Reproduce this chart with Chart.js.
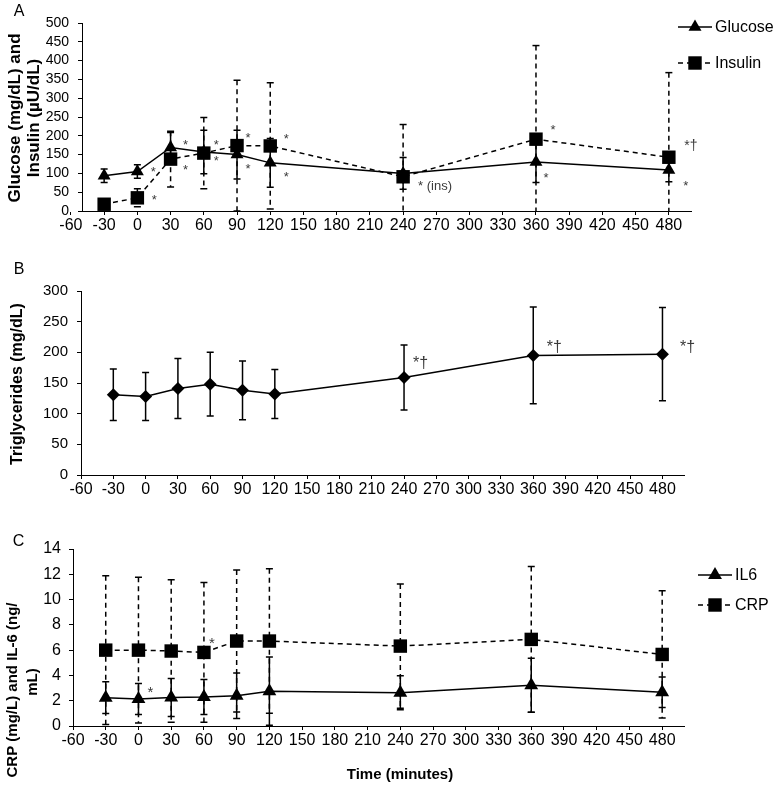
<!DOCTYPE html>
<html>
<head>
<meta charset="utf-8">
<script src="https://cdn.jsdelivr.net/npm/chart.js@4.4.1/dist/chart.umd.min.js"></script>
<style>
  body { margin: 0; background: #fff; }
  #wrap { position: relative; width: 774px; height: 786px; }
  canvas { position: absolute; left: 0; }
</style>
</head>
<body>
<div id="wrap">
  <canvas id="panelA" width="774" height="250" style="top:0"></canvas>
  <canvas id="panelB" width="774" height="260" style="top:250px"></canvas>
  <canvas id="panelC" width="774" height="276" style="top:510px"></canvas>
</div>
<script>
// ---- data ----
const timeTicks = [-60, -30, 0, 30, 60, 90, 120, 150, 180, 210, 240, 270, 300, 330, 360, 390, 420, 450, 480];
const sampleTimes = [-30, 0, 30, 60, 90, 120, 240, 360, 480];

const glucoseMean = [94, 105, 169, 157, 150, 128, 100, 130, 109];
const glucoseSD = [18, 18, 40, 58, 65, 65, 42, 54, 31];
const insulinMean = [18, 35, 138, 154, 174, 173, 91, 191, 143];
const insulinSD = [5, 24, 74, 95, 174, 168, 139, 249, 225];

const trigMean = [131, 128, 141, 148, 138, 132, 159, 195, 197];
const trigSD = [42, 39, 49, 52, 48, 40, 53, 79, 76];

const il6Mean = [2.24, 2.13, 2.26, 2.29, 2.4, 2.75, 2.63, 3.22, 2.67];
const il6SD = [1.26, 1.23, 1.5, 1.39, 1.8, 2.7, 1.34, 2.14, 1.2];
const crpMean = [6.0, 6.0, 5.93, 5.82, 6.72, 6.72, 6.32, 6.85, 5.66];
const crpSD = [5.88, 5.77, 5.63, 5.53, 5.61, 5.71, 4.92, 5.77, 5.03];

const FONT = '"Liberation Sans", Arial, Helvetica, sans-serif';
Chart.defaults.font.family = FONT;
Chart.defaults.color = '#000';
const DASH = [5, 4];

// ---- shared pieces ----
function timeAxis(min, height) {
  return {
    type: 'linear', min: min, max: 500,
    afterBuildTicks: s => { s.ticks = timeTicks.map(v => ({ value: v })); },
    afterFit: s => { s.height = height; },
    ticks: { autoSkip: false, maxRotation: 0, padding: 1, font: { size: 16 }, color: '#000', callback: v => String(v) },
    grid: { drawOnChartArea: false, color: '#000', tickLength: 4 },
    border: { color: '#000', width: 1 }
  };
}

function valueAxis(max, step, width, pad, size) {
  return {
    min: 0, max: max,
    afterFit: s => { s.width = width; },
    ticks: { stepSize: step, autoSkip: false, padding: pad, font: { size: size }, color: '#000' },
    grid: { drawOnChartArea: false, color: '#000', tickLength: 4 },
    border: { color: '#000', width: 1 }
  };
}

function series(label, means, style, radius, dashed) {
  return {
    label: label,
    data: sampleTimes.map((t, i) => ({ x: t, y: means[i] })),
    borderColor: '#000', backgroundColor: '#000',
    pointBackgroundColor: '#000', pointBorderColor: '#000',
    borderWidth: 1.5, pointBorderWidth: 0,
    pointStyle: style, pointRadius: radius, pointHoverRadius: radius,
    borderDash: dashed ? DASH : [],
    tension: 0, fill: false
  };
}

// error bars (mean +/- SD), drawn under the markers
function errorBars(list) {
  return {
    id: 'errorBars',
    beforeDatasetsDraw(chart) {
      const { ctx, chartArea: a, scales: { x, y } } = chart;
      ctx.save();
      ctx.beginPath();
      ctx.rect(a.left - 10, a.top - 1, a.width + 20, a.height + 1);
      ctx.clip();
      ctx.strokeStyle = '#000';
      ctx.lineWidth = 1.5;
      list.forEach(b => {
        const means = chart.data.datasets[b.ds].data;
        means.forEach((p, i) => {
          const sd = b.sd[i];
          const px = x.getPixelForValue(p.x);
          const hi = p.y + sd, lo = p.y - sd;
          const yHi = y.getPixelForValue(Math.min(hi, y.max));
          const yLo = y.getPixelForValue(Math.max(lo, y.min));
          ctx.setLineDash(b.dashed ? DASH : []);
          ctx.beginPath();
          ctx.moveTo(px, yHi); ctx.lineTo(px, yLo);
          ctx.stroke();
          ctx.setLineDash([]);
          ctx.beginPath();
          if (hi <= y.max) { ctx.moveTo(px - 3.5, yHi); ctx.lineTo(px + 3.5, yHi); }
          if (lo >= y.min) { ctx.moveTo(px - 3.5, yLo); ctx.lineTo(px + 3.5, yLo); }
          ctx.stroke();
        });
      });
      ctx.restore();
    }
  };
}

// significance marks attached to a data point (offsets in px, baseline)
function notes(list) {
  return {
    id: 'notes',
    afterDatasetsDraw(chart) {
      const ctx = chart.ctx;
      ctx.save();
      ctx.fillStyle = '#3a3a3a';
      ctx.textBaseline = 'alphabetic';
      list.forEach(n => {
        const el = chart.getDatasetMeta(n.ds).data[n.i];
        ctx.font = (n.size || 13) + 'px ' + FONT;
        ctx.textAlign = n.align || 'center';
        ctx.fillText(n.text, el.x + n.dx, el.y + n.dy);
      });
      ctx.restore();
    }
  };
}

// legend with line + marker, plus panel letter and axis titles
function decorations(cfg) {
  return {
    id: 'decorations',
    afterDraw(chart) {
      const ctx = chart.ctx;
      ctx.save();
      ctx.fillStyle = '#000';
      ctx.strokeStyle = '#000';
      (cfg.legend || []).forEach(it => {
        const ds = chart.data.datasets[it.ds];
        ctx.lineWidth = 1.5;
        ctx.setLineDash(ds.borderDash || []);
        ctx.beginPath();
        ctx.moveTo(it.x, it.y); ctx.lineTo(it.x + 34, it.y);
        ctx.stroke();
        ctx.setLineDash([]);
        Chart.helpers.drawPoint(ctx, { pointStyle: ds.pointStyle, radius: ds.pointRadius, rotation: 0, borderWidth: 0 }, it.x + 17, it.y);
        ctx.font = '16px ' + FONT;
        ctx.textAlign = 'left';
        ctx.textBaseline = 'middle';
        ctx.fillText(ds.label, it.x + 37, it.y + 1);
      });
      (cfg.texts || []).forEach(t => {
        ctx.save();
        ctx.translate(t.x, t.y);
        if (t.rotate) ctx.rotate(-Math.PI / 2);
        ctx.font = t.font;
        ctx.textAlign = 'center';
        ctx.textBaseline = 'middle';
        ctx.fillText(t.text, 0, 0);
        ctx.restore();
      });
      ctx.restore();
    }
  };
}

const baseOptions = (padding, x, y) => ({
  responsive: false,
  animation: false,
  layout: { padding: padding },
  plugins: { legend: { display: false }, tooltip: { enabled: false } },
  scales: { x: x, y: y }
});

const TITLE = 'bold 15px ' + FONT;

// ---- panel A ----
new Chart(document.getElementById('panelA'), {
  type: 'line',
  data: { datasets: [
    series('Glucose', glucoseMean, 'triangle', 7.5, false),
    series('Insulin', insulinMean, 'rect', 9.5, true)
  ] },
  options: baseOptions({ left: 0, top: 23, right: 83, bottom: 0 }, timeAxis(-50, 39), valueAxis(500, 50, 82, 9, 14)),
  plugins: [
    errorBars([{ ds: 0, sd: glucoseSD, dashed: false }, { ds: 1, sd: insulinSD, dashed: true }]),
    notes([
      { ds: 1, i: 1, text: '*', dx: 17, dy: 6 },
      { ds: 0, i: 1, text: '*', dx: 16, dy: 4 },
      { ds: 0, i: 2, text: '*', dx: 15, dy: 2 },
      { ds: 1, i: 2, text: '*', dx: 15, dy: 15 },
      { ds: 0, i: 3, text: '*', dx: 12.5, dy: -3 },
      { ds: 1, i: 3, text: '*', dx: 12.5, dy: 12 },
      { ds: 1, i: 4, text: '*', dx: 11, dy: -3.5 },
      { ds: 0, i: 4, text: '*', dx: 11, dy: 18 },
      { ds: 1, i: 5, text: '*', dx: 16, dy: -3 },
      { ds: 0, i: 5, text: '*', dx: 16, dy: 18 },
      { ds: 1, i: 6, text: '* (ins)', dx: 15, dy: 13, align: 'left' },
      { ds: 1, i: 7, text: '*', dx: 17, dy: -5 },
      { ds: 0, i: 7, text: '*', dx: 10, dy: 20 },
      { ds: 1, i: 8, text: '*\u2020', dx: 15.5, dy: -7, align: 'left', size: 14 },
      { ds: 0, i: 8, text: '*', dx: 17, dy: 20 }
    ]),
    decorations({
      legend: [{ ds: 0, x: 678, y: 27 }, { ds: 1, x: 678, y: 63 }],
      texts: [
        { text: 'A', x: 19, y: 12, font: '16px ' + FONT },
        { text: 'Glucose (mg/dL) and', x: 15, y: 118, rotate: true, font: 'bold 17px ' + FONT },
        { text: 'Insulin (\u00b5U/dL)', x: 34, y: 118, rotate: true, font: 'bold 17px ' + FONT }
      ]
    })
  ]
});

// ---- panel B ----
new Chart(document.getElementById('panelB'), {
  type: 'line',
  data: { datasets: [ series('Triglycerides', trigMean, 'rectRot', 6.5, false) ] },
  options: baseOptions({ left: 0, top: 41, right: 90, bottom: 0 }, timeAxis(-60, 35), valueAxis(300, 50, 81, 9, 15)),
  plugins: [
    errorBars([{ ds: 0, sd: trigSD, dashed: false }]),
    notes([
      { ds: 0, i: 6, text: '*\u2020', dx: 9, dy: -9, align: 'left', size: 16 },
      { ds: 0, i: 7, text: '*\u2020', dx: 13.5, dy: -3.5, align: 'left', size: 16 },
      { ds: 0, i: 8, text: '*\u2020', dx: 17.5, dy: -2, align: 'left', size: 16 }
    ]),
    decorations({
      texts: [
        { text: 'B', x: 19, y: 20, font: '16px ' + FONT },
        { text: 'Triglycerides (mg/dL)', x: 18, y: 134, rotate: true, font: 'bold 16px ' + FONT }
      ]
    })
  ]
});

// ---- panel C ----
new Chart(document.getElementById('panelC'), {
  type: 'line',
  data: { datasets: [
    series('IL6', il6Mean, 'triangle', 8, false),
    series('CRP', crpMean, 'rect', 9.5, true)
  ] },
  options: baseOptions({ left: 0, top: 39, right: 90, bottom: 0 }, timeAxis(-60, 60), valueAxis(14, 2, 73, 8, 16)),
  plugins: [
    errorBars([{ ds: 0, sd: il6SD, dashed: false }, { ds: 1, sd: crpSD, dashed: true }]),
    notes([
      { ds: 0, i: 1, text: '*', dx: 12, dy: -2.5, size: 15 },
      { ds: 1, i: 3, text: '*', dx: 8, dy: -4.5, size: 15 }
    ]),
    decorations({
      legend: [{ ds: 0, x: 698, y: 65 }, { ds: 1, x: 698, y: 95 }],
      texts: [
        { text: 'C', x: 18.5, y: 32, font: '16px ' + FONT },
        { text: 'CRP (mg/L) and IL-6 (ng/', x: 13, y: 180, rotate: true, font: TITLE },
        { text: 'mL)', x: 33, y: 172, rotate: true, font: TITLE },
        { text: 'Time (minutes)', x: 400, y: 265, font: TITLE }
      ]
    })
  ]
});
</script>
</body>
</html>
